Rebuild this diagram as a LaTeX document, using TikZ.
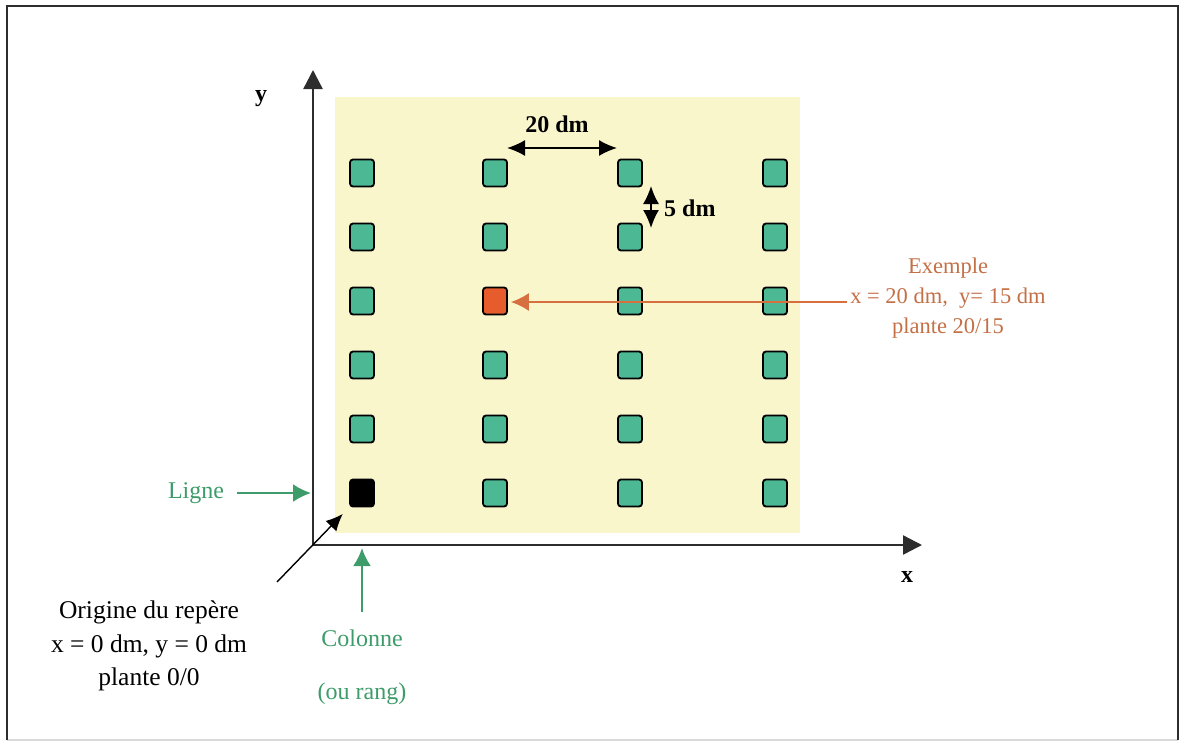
\documentclass[tikz,border=0pt]{standalone}
\usepackage{fontspec}
\setmainfont{Liberation Serif}
\usetikzlibrary{arrows.meta}
\definecolor{bgyellow}{RGB}{250,246,204}
\definecolor{plantgreen}{RGB}{76,184,148}
\definecolor{plantred}{RGB}{230,92,44}
\definecolor{txtgreen}{RGB}{62,156,106}
\definecolor{txtorange}{RGB}{196,112,70}
\definecolor{arrorange}{RGB}{214,112,64}
\definecolor{axisgray}{RGB}{45,45,45}
\tikzset{
  plant/.style={draw=black, line width=1.8pt, fill=plantgreen, rounded corners=3pt, minimum width=24pt, minimum height=27pt, inner sep=0pt},
  plantex/.style={plant, fill=plantred},
  plantorig/.style={plant, fill=black},
  axisline/.style={draw=axisgray, line width=2.4pt, -{Triangle[length=19pt,width=19pt]}},
  dimarrow/.style={draw=black, line width=1.6pt, {Latex[length=18pt,width=16pt]}-{Latex[length=18pt,width=16pt]}},
  garrow/.style={draw=txtgreen, line width=2.4pt, -{Latex[length=18pt,width=18pt]}},
  oarrow/.style={draw=arrorange, line width=1.6pt, -{Latex[length=18pt,width=18pt]}},
  barrow/.style={draw=black, line width=1.4pt, -{Latex[length=17pt,width=15pt]}},
  lbl/.style={font=\fontsize{24}{30}\selectfont, inner sep=0pt},
  blbl/.style={font=\fontsize{24}{30}\selectfont\bfseries, inner sep=0pt}
}
\begin{document}
\begin{tikzpicture}[x=1pt,y=-1pt]
\useasboundingbox (0,0) rectangle (1185,747);
% frame
\draw[draw=black!15, line width=1.5pt] (7,740) -- (1178,740);
\draw[draw=axisgray, line width=2.4pt] (7,740) -- (7,6) -- (1178,6) -- (1178,740);
% field
\fill[bgyellow] (335,97) rectangle (800,533);
% plants
\foreach \c/\xx in {1/362,2/495,3/630,4/775}{
  \foreach \r in {1,...,6}{
    \pgfmathsetmacro{\yy}{173+64*(\r-1)}
    \def\st{plant}
    \ifnum\c=2 \ifnum\r=3 \def\st{plantex}\fi\fi
    \ifnum\c=1 \ifnum\r=6 \def\st{plantorig}\fi\fi
    \node[\st] (p\c\r) at (\xx,\yy) {};
  }
}
% axes
\coordinate (O) at (313,545);
\coordinate (ytip) at (313,70);
\coordinate (xtip) at (922,545);
\draw[axisline] (O) -- (ytip);
\draw[axisline] (O) -- (xtip);
\node[blbl] (ylab) at (261,99) {y};
\node[blbl] (xlab) at (907,577) {x};
% dimensions
\coordinate (d20a) at (507,148);
\coordinate (d20b) at (617,148);
\draw[dimarrow] (d20a) -- (d20b);
\node[blbl] (t20) at (557,124) {20 dm};
\coordinate (d5a) at (651,186);
\coordinate (d5b) at (651,228);
\draw[dimarrow] (d5a) -- (d5b);
\node[blbl, anchor=west] (t5) at (664,208) {5 dm};
% example
\node[lbl, text=txtorange, align=center, font=\fontsize{22.5}{30}\selectfont] (ex) at (948,298) {Exemple\\x = 20 dm,\ \ y= 15 dm\\plante 20/15};
\coordinate (extail) at (847,302);
\draw[oarrow, shorten >=3pt] (extail) -- (p23.east |- extail);
% ligne
\node[lbl, text=txtgreen] (ligne) at (196,493) {Ligne};
\coordinate (ltail) at (237,493);
\draw[garrow, shorten >=2pt] (ltail) -- (O |- ltail);
% colonne
\node[lbl, text=txtgreen] (colonne) at (362,638) {Colonne};
\node[lbl, text=txtgreen] (rang) at (362,694) {(ou rang)};
\coordinate (ctail) at (362,612);
\draw[garrow, shorten >=3pt] (ctail) -- (ctail |- O);
% origine
\node[lbl, align=center, font=\fontsize{25.5}{33.5}\selectfont] (orig) at (149,646) {Origine du repère\\x = 0 dm, y = 0 dm\\plante 0/0};
\coordinate (otail) at (277,582);
\draw[barrow, shorten >=9pt] (otail) -- (p16.south west);
\end{tikzpicture}
\end{document}
